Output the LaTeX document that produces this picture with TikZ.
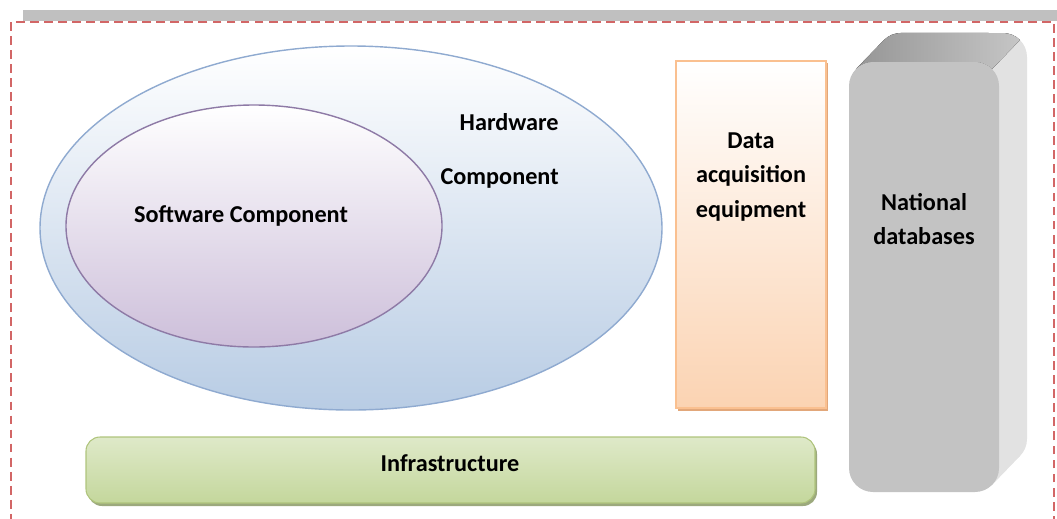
\documentclass[tikz,border=0pt]{standalone}
\usepackage{fontspec}
\setmainfont{Carlito}
\usepackage{tikz}

\definecolor{framered}{HTML}{D26666}
\definecolor{bargray}{HTML}{C0C0C0}
\definecolor{hwblue}{HTML}{B8CCE4}
\definecolor{hwline}{HTML}{8FAAD0}
\definecolor{swpurple}{HTML}{CDBFDA}
\definecolor{swline}{HTML}{8E7AA6}
\definecolor{daqorange}{HTML}{FBD3B2}
\definecolor{daqline}{HTML}{FAC090}
\definecolor{daqshadow}{HTML}{E2A77A}
\definecolor{infragreen}{HTML}{C4D79C}
\definecolor{infralight}{HTML}{EAF1DC}
\definecolor{infraline}{HTML}{AFC47C}
\definecolor{dbfront}{HTML}{C3C3C3}
\definecolor{dbtop}{HTML}{969696}
\definecolor{dbside}{HTML}{E2E2E2}

\begin{document}
\begin{tikzpicture}[x=0.02cm, y=-0.02cm,
    lbl/.style={font=\fontsize{13.8}{19.5}\selectfont\bfseries, inner sep=0pt, align=center}]
    \useasboundingbox (0,0) rectangle (1057,518);
    \clip (0,0) rectangle (1057,518);

    % Frame and top bar
    \fill[bargray] (23,10) rectangle (1057,21);
    \draw[framered, line width=1.2pt, dash pattern=on 5pt off 3pt] (11,22) rectangle (1054,560);

    % Hardware and software ellipses
    \draw[hwline, line width=0.8pt, top color=white, bottom color=hwblue] (351,228) ellipse [x radius=311, y radius=182];
    \draw[swline, line width=0.8pt, top color=white, bottom color=swpurple] (254,226) ellipse [x radius=188, y radius=121];

    \node[lbl] (swtext) at (241,216) {Software Component};
    \node[lbl, align=right, anchor=east] (hwtext) at (559,151) {Hardware\\[11.5pt]Component};

    % Data acquisition equipment
    \fill[daqshadow] (678,63) rectangle (828,411);
    \draw[daqline, line width=0.8pt, top color=white, bottom color=daqorange] (676,61) rectangle (826,408);
    \node[lbl] (daqtext) at (751,177) {Data\\acquisition\\equipment};

    % National databases (box with depth)
    \fill[dbside, rounded corners=0.48cm] (877,33) rectangle (1027,463);
    \fill[dbside] (856,69) -- (884,40) -- (1020,456) -- (992,485) -- cycle;
    \fill[left color=dbtop, right color=dbtop!55!white] (856,69) -- (884,40) arc[start angle=225, end angle=270, radius=24]
        -- (1003,33) arc[start angle=270, end angle=315, radius=24]
        -- (992,69) arc[start angle=315, end angle=270, radius=24]
        -- (873,62) arc[start angle=270, end angle=225, radius=24] -- cycle;
    \fill[dbfront, rounded corners=0.48cm] (849,62) rectangle (999,492);
    \node[lbl] (dbtext) at (924,219) {National\\databases};

    % Infrastructure
    \fill[infraline!60!gray, rounded corners=0.28cm] (88,440) rectangle (817,506);
    \draw[infraline, line width=0.6pt, rounded corners=0.28cm, top color=infralight!70!infragreen, middle color=infralight, bottom color=infragreen] (86,437) rectangle (815,503);
    \node[lbl] (infratext) at (450,463) {Infrastructure};
\end{tikzpicture}
\end{document}
